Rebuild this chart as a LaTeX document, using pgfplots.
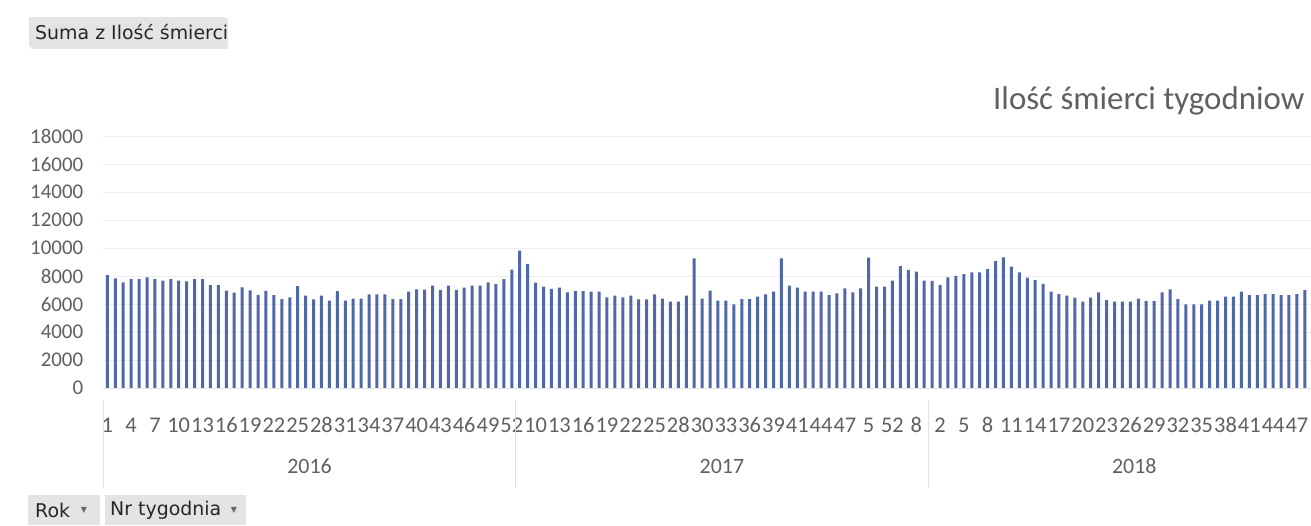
\documentclass[border=0pt]{standalone}
\usepackage{pgfplots}
\pgfplotsset{compat=1.18}
\usepackage{fontspec}
\setmainfont{Carlito}
\newfontfamily\btnfont{DejaVu Sans}
\definecolor{barblue}{RGB}{80,103,168}
\definecolor{txtgray}{RGB}{96,96,96}
\definecolor{gridgray}{RGB}{238,238,238}
\definecolor{btngray}{RGB}{228,228,228}
\definecolor{sepgray}{RGB}{225,225,225}
\begin{document}
\begin{tikzpicture}
\useasboundingbox (0,0) rectangle (1311bp,526bp);
\clip (0,0) rectangle (1311bp,526bp);
\fill[white] (0,0) rectangle (1311bp,526bp);
% pivot field buttons
\fill[black!9] (31bp,477bp) rectangle (228bp,508bp);
\fill[btngray] (29bp,479bp) rectangle (225bp,509bp);
\node[anchor=west, inner sep=0pt, font=\btnfont\fontsize{19}{22}\selectfont, text=black!85] at (35bp,494bp) {Suma z Ilość śmierci};
\fill[btngray] (28bp,1bp) rectangle (100bp,31bp);
\node[anchor=west, inner sep=0pt, font=\btnfont\fontsize{19}{22}\selectfont, text=black!85] at (35bp,16bp) {Rok};
\node[inner sep=0pt, font=\btnfont\fontsize{8}{9}\selectfont, text=black!60] at (84bp,16bp) {▼};
\fill[btngray] (105bp,1bp) rectangle (246bp,31bp);
\node[anchor=west, inner sep=0pt, font=\btnfont\fontsize{19}{22}\selectfont, text=black!85] at (110bp,16bp) {Nr tygodnia};
\node[inner sep=0pt, font=\btnfont\fontsize{8}{9}\selectfont, text=black!60] at (234bp,16bp) {▼};
% chart title (the reference shows it cut at the right edge)
\node[anchor=base west, inner sep=0pt, font=\fontsize{33}{40}\selectfont, text=txtgray] at (993bp,416bp) {Ilość śmierci tygodniow};
\begin{axis}[
  at={(103.4bp,138bp)}, anchor=south west,
  scale only axis, width=1237.1bp, height=251.7bp,
  xmin=0.5, xmax=156.5, ymin=0, ymax=18000,
  clip=false,
  scaled y ticks=false,
  ybar, bar width=3bp,
  axis line style={draw=none},
  tick style={draw=none},
  ymajorgrids, grid style={color=gridgray, line width=0.8bp},
  ytick={0,2000,4000,6000,8000,10000,12000,14000,16000,18000},
  yticklabels={0,2000,4000,6000,8000,10000,12000,14000,16000,18000},
  yticklabel style={font=\fontsize{21}{24}\selectfont, text=txtgray, inner sep=0pt, anchor=east, xshift=-20bp},
  xtick={1,4,...,151},
  xticklabels={1,4,7,10,13,16,19,22,25,28,31,34,37,40,43,46,49,52,10,13,16,19,22,25,28,30,33,36,39,41,44,47,5,52,8,2,5,8,11,14,17,20,23,26,29,32,35,38,41,44,47},
  xticklabel style={font=\fontsize{22.5}{26}\selectfont, text=txtgray, inner sep=0pt, anchor=base, yshift=-40bp},
]
\addplot[fill=barblue, draw=none] coordinates {
(1,8080) (2,7840) (3,7550) (4,7790) (5,7790) (6,7910) (7,7790) (8,7670) (9,7790) (10,7670)
(11,7630) (12,7790) (13,7790) (14,7360) (15,7360) (16,6960) (17,6820) (18,7200) (19,6990) (20,6650)
(21,6950) (22,6650) (23,6360) (24,6480) (25,7290) (26,6600) (27,6340) (28,6600) (29,6240) (30,6930)
(31,6240) (32,6400) (33,6400) (34,6690) (35,6690) (36,6690) (37,6360) (38,6360) (39,6900) (40,7050)
(41,7030) (42,7320) (43,7010) (44,7320) (45,7010) (46,7180) (47,7320) (48,7320) (49,7550) (50,7430)
(51,7790) (52,8460)
(53,9820) (54,8870) (55,7530) (56,7250) (57,7080) (58,7180) (59,6840) (60,6930)
(61,6930) (62,6890) (63,6890) (64,6480) (65,6600) (66,6480) (67,6600) (68,6340) (69,6340) (70,6690)
(71,6400) (72,6170) (73,6170) (74,6600) (75,9270) (76,6400) (77,6960) (78,6240) (79,6240) (80,5980)
(81,6360) (82,6360) (83,6530) (84,6690) (85,6890) (86,9270) (87,7320) (88,7180) (89,6890) (90,6890)
(91,6890) (92,6650) (93,6770) (94,7130) (95,6840) (96,7130) (97,9320) (98,7250) (99,7250) (100,7680)
(101,8720) (102,8440) (103,8320) (104,7680)
(105,7660) (106,7360) (107,7910) (108,8010) (109,8150) (110,8270)
(111,8270) (112,8510) (113,9080) (114,9340) (115,8680) (116,8270) (117,7890) (118,7720) (119,7440) (120,6890)
(121,6720) (122,6600) (123,6460) (124,6170) (125,6460) (126,6840) (127,6290) (128,6170) (129,6170) (130,6170)
(131,6400) (132,6220) (133,6220) (134,6840) (135,7060) (136,6360) (137,5980) (138,5980) (139,5980) (140,6240)
(141,6240) (142,6530) (143,6530) (144,6890) (145,6650) (146,6650) (147,6720) (148,6720) (149,6650) (150,6650)
(151,6720) (152,7010)
};
% category axis line and year group separators
\draw[sepgray, line width=0.8bp] (axis cs:0.5,0) -- (axis cs:156.5,0);
\draw[sepgray, line width=0.8bp] ([yshift=-12bp]axis cs:0.5,0) -- ([yshift=-100bp]axis cs:0.5,0);
\draw[sepgray, line width=0.8bp] ([yshift=-12bp]axis cs:52.5,0) -- ([yshift=-100bp]axis cs:52.5,0);
\draw[sepgray, line width=0.8bp] ([yshift=-12bp]axis cs:104.5,0) -- ([yshift=-100bp]axis cs:104.5,0);
% year labels
\node[anchor=base, inner sep=0pt, font=\fontsize{22}{26}\selectfont, text=txtgray] at (axis cs:26.5,0) [yshift=-85bp] {2016};
\node[anchor=base, inner sep=0pt, font=\fontsize{22}{26}\selectfont, text=txtgray] at (axis cs:78.5,0) [yshift=-85bp] {2017};
\node[anchor=base, inner sep=0pt, font=\fontsize{22}{26}\selectfont, text=txtgray] at (axis cs:130.5,0) [yshift=-85bp] {2018};
\end{axis}
\end{tikzpicture}
\end{document}
